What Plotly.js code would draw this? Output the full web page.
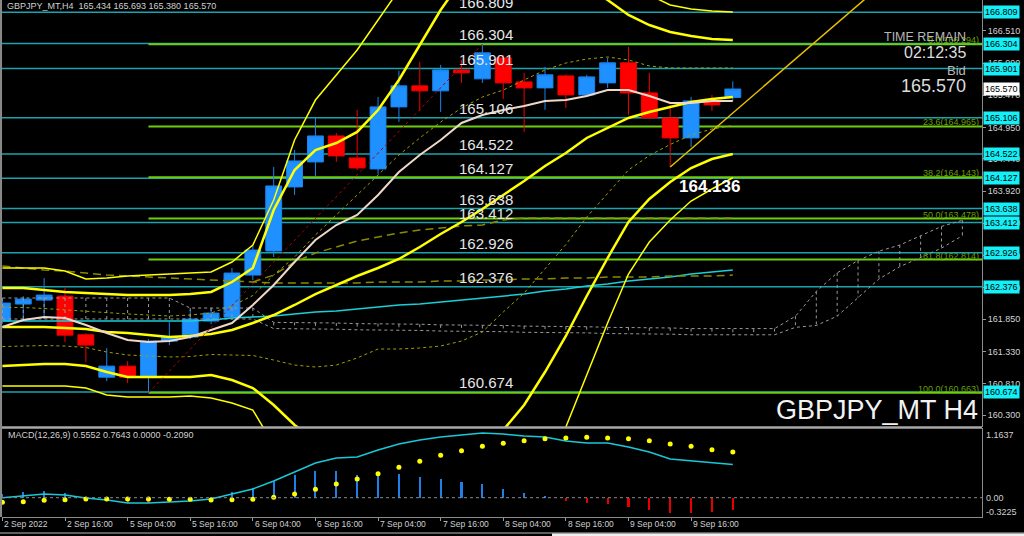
<!DOCTYPE html>
<html><head><meta charset="utf-8">
<script src="https://cdn.plot.ly/plotly-3.0.1.min.js"></script>
<style>html,body{margin:0;padding:0;background:#000;}#chart{width:1024px;height:536px;}</style>
</head><body><div id="chart"></div>
<script>
// ---------- DATA ----------
const tickBars   = [0,3,6,9,12,15,18,21,24,27,30,33];
const tickLabels = ["2 Sep 2022","2 Sep 16:00","5 Sep 04:00","5 Sep 16:00","6 Sep 04:00","6 Sep 16:00",
                    "7 Sep 04:00","7 Sep 16:00","8 Sep 04:00","8 Sep 16:00","9 Sep 04:00","9 Sep 16:00"];

const opens  = [161.821,162.096,162.160,162.225,161.600,160.915,161.093,160.915,161.497,161.562,161.821,161.885,
                162.564,162.953,163.988,164.392,164.812,164.456,164.279,165.281,165.621,165.540,165.879,165.734,
                166.073,165.685,165.588,165.782,165.475,165.669,165.993,165.507,165.103,164.780,165.378,165.434];
const highs  = [162.150,162.225,162.516,162.370,161.627,161.384,161.174,161.530,161.805,161.999,162.031,162.678,
                163.050,164.311,164.586,165.103,164.860,165.233,165.443,165.863,166.009,165.960,166.041,166.294,
                166.120,165.831,165.928,165.800,165.800,166.073,166.251,165.831,165.313,165.443,165.475,165.693];
const lows   = [161.780,161.837,161.902,161.481,161.158,160.850,160.818,160.663,161.433,161.530,161.770,161.837,
                162.480,162.856,163.858,164.165,164.392,164.262,164.198,165.039,165.216,165.200,165.669,165.669,
                165.410,164.877,165.233,165.265,165.440,165.588,165.152,165.087,164.311,164.634,165.216,165.380];
const closes = [162.112,162.176,162.241,161.594,161.433,161.093,160.915,161.497,161.562,161.853,161.950,162.597,
                162.969,164.004,164.408,164.812,164.489,164.295,165.281,165.621,165.540,165.879,165.831,166.154,
                165.669,165.588,165.799,165.475,165.766,165.993,165.507,165.103,164.780,165.378,165.313,165.570];

// Bollinger set (middle, +-1 dotted, +-2 thick, +-3 thin)
const bbMid = [161.725,161.725,161.725,161.709,161.693,161.645,161.628,161.596,161.564,161.580,161.612,161.677,
               161.790,161.919,162.081,162.258,162.404,162.549,162.679,162.824,163.018,163.228,163.422,163.632,
               163.858,164.084,164.326,164.536,164.779,164.940,165.102,165.199,165.279,165.360,165.409,165.441];
const bbUp2 = [162.355,162.355,162.323,162.291,162.275,162.258,162.242,162.242,162.242,162.258,162.291,162.452,
               162.678,163.615,164.262,164.585,164.698,164.876,165.231,165.716,166.281,166.846,167.331,167.573,
               167.735,167.735,167.654,167.493,167.250,167.008,166.766,166.604,166.491,166.426,166.378,166.362];
const bbLo2 = [161.095,161.111,161.127,161.127,161.095,160.998,160.918,160.918,160.918,160.918,160.950,160.869,
               160.740,160.465,160.142,159.900,159.819,159.900,160.061,159.900,159.738,159.609,159.577,159.658,
               160.061,160.465,160.998,161.580,162.226,162.840,163.422,163.793,164.068,164.294,164.439,164.520];
const bbUp3 = [162.678,162.678,162.678,162.630,162.501,162.517,162.549,162.565,162.582,162.598,162.614,162.775,
               163.050,163.777,164.746,165.392,165.796,166.200,166.685,167.170,167.654,168.139,168.462,168.704,
               168.866,168.866,168.785,168.543,168.220,167.816,167.412,167.089,166.927,166.863,166.830,166.814];
const bbLo3 = [160.772,160.772,160.772,160.772,160.740,160.627,160.595,160.595,160.595,160.611,160.578,160.498,
               160.384,159.819,159.092,158.607,158.446,158.527,158.607,158.446,158.284,158.123,158.042,158.042,
               158.171,158.656,159.334,160.110,160.950,161.790,162.582,163.099,163.454,163.761,163.955,164.136];
const bbUp1 = [162.041,162.041,162.024,162.000,161.984,161.952,161.936,161.919,161.903,161.919,161.952,162.065,
               162.234,162.566,162.856,163.212,163.535,163.858,164.181,164.504,164.779,165.037,165.263,165.441,
               165.554,165.716,165.877,165.990,166.055,166.087,166.039,165.942,165.910,165.910,165.910,165.910];
const bbLo1 = [161.410,161.418,161.426,161.418,161.394,161.321,161.273,161.257,161.241,161.249,161.281,161.273,
               161.265,161.192,161.111,161.079,161.111,161.225,161.370,161.370,161.386,161.418,161.499,161.645,
               161.968,162.274,162.662,163.058,163.502,163.890,164.262,164.496,164.674,164.827,164.924,164.981];
// short moving average (beige), long moving average (cyan), long average (olive dashed), base line (olive dashed)
const maShort = [161.725,161.838,161.887,161.871,161.758,161.628,161.515,161.483,161.499,161.564,161.677,161.790,
                 162.081,162.404,162.775,163.131,163.373,163.535,163.858,164.229,164.504,164.746,165.021,165.150,
                 165.231,165.296,165.376,165.392,165.457,165.554,165.554,165.457,165.344,165.344,165.376,165.376];
const maLong  = [161.822,161.822,161.822,161.822,161.822,161.822,161.822,161.822,161.822,161.822,161.838,161.871,
                 161.887,161.903,161.935,161.968,161.984,162.016,162.049,162.081,162.097,162.129,162.161,162.194,
                 162.226,162.258,162.307,162.339,162.387,162.420,162.468,162.501,162.533,162.581,162.614,162.646];
const maSlow  = [162.711,162.678,162.646,162.630,162.598,162.565,162.549,162.533,162.517,162.501,162.485,162.469,
                 162.452,162.436,162.436,162.436,162.436,162.436,162.452,162.452,162.452,162.469,162.469,162.485,
                 162.485,162.501,162.501,162.517,162.517,162.533,162.533,162.533,162.549,162.549,162.549,162.565];
const baseX   = [12,13,14,15,16,17,18,19,20,21,22,23,24,25,26,27,28,29,30,31,32,33,34,35];
const baseLine= [162.452,162.565,162.775,162.921,163.018,163.115,163.179,163.244,163.293,163.325,163.357,163.373,
                 163.454,163.486,163.486,163.486,163.486,163.486,163.486,163.486,163.486,163.486,163.486,163.486];
// cloud spans (grey dotted, extend beyond last bar)
const spanA = [162.194,162.194,162.194,162.194,162.194,162.194,162.194,162.194,162.194,162.032,162.032,162.032,
               162.032,161.80,161.80,161.79,161.79,161.78,161.78,161.77,161.77,161.76,161.76,161.75,161.75,161.74,
               161.74,161.73,161.73,161.72,161.72,161.71,161.71,161.70,161.70,161.69,161.69,161.70,161.90,162.30,
               162.60,162.80,162.95,163.05,163.20,163.35,163.45];
const spanB = [161.855,161.855,161.855,161.855,161.855,161.855,161.855,161.855,161.855,161.855,161.855,161.855,
               161.855,161.70,161.70,161.69,161.69,161.68,161.68,161.67,161.67,161.66,161.66,161.65,161.65,161.64,
               161.64,161.63,161.63,161.62,161.62,161.61,161.61,161.60,161.60,161.59,161.59,161.60,161.72,161.75,
               161.90,162.20,162.50,162.70,162.85,163.00,163.20];

// Horizontal levels, Fibonacci, trend lines
const levels   = [166.809,166.304,165.901,165.106,164.522,164.127,163.638,163.412,162.926,162.376,160.674];
const fibPct   = [0,23.6,38.2,50,61.8,100];
const fibVals  = [166.294,164.965,164.143,163.478,162.814,160.663];
const fibStartBar = 7;
const fibDiagX = [7,23], fibDiagY = [160.663,166.294];
const trendX = [32,41.6], trendY = [164.311,167.10];
const axisTicks = [166.510,165.990,165.470,164.950,164.440,163.920,163.400,162.880,162.360,161.850,161.330,160.810,160.300];
const bidPrice = 165.570;

// MACD panel
const macd   = [0.000,0.028,0.062,0.045,-0.005,-0.038,-0.088,-0.088,-0.072,-0.055,-0.022,0.062,0.145,0.279,0.429,0.579,
                0.663,0.680,0.796,0.897,0.963,1.013,1.047,1.080,1.063,1.030,1.013,0.947,0.913,0.913,0.846,0.763,0.646,
                0.613,0.579,0.555];
const signal = [-0.077,-0.067,-0.043,-0.033,-0.022,-0.022,-0.022,-0.022,-0.027,-0.027,-0.038,-0.033,-0.027,0.007,0.062,
                0.140,0.229,0.312,0.401,0.508,0.608,0.708,0.785,0.858,0.908,0.952,0.985,0.997,1.008,0.997,0.985,0.952,
                0.896,0.858,0.801,0.764];
const hist   = [0.070,0.100,0.117,0.072,0.015,-0.039,-0.095,-0.083,-0.050,-0.045,0.010,0.100,0.167,0.278,0.378,0.445,
                0.445,0.378,0.406,0.389,0.339,0.312,0.267,0.228,0.145,0.083,0.028,-0.056,-0.095,-0.106,-0.150,-0.206,
                -0.250,-0.250,-0.239,-0.209];

// ---------- CHART ----------
const xs  = opens.map((_, i) => i);
const xsC = spanA.map((_, i) => i);
const X_MIN = -0.019, X_MAX = 46.94;
const PH = 517;                       // plot height in px
const py = p => (PH - p) / PH;        // pixel row -> paper y
const px = p => (p - 2) / 980;        // pixel column -> paper x

const FONT = 'Liberation Sans, Arial, sans-serif';
const traces = [];

// cloud hatch (vertical dotted segments) + its two edges
const hx = [], hy = [];
xsC.forEach(i => { hx.push(i, i, null); hy.push(spanA[i], spanB[i], null); });
traces.push({type:'scatter', mode:'lines', x:hx, y:hy, line:{color:'#9a9a9a', width:1, dash:'dot'}, hoverinfo:'skip'});
traces.push({type:'scatter', mode:'lines', x:xsC, y:spanA, line:{color:'#9a9a9a', width:1, dash:'dot'}, hoverinfo:'skip'});
traces.push({type:'scatter', mode:'lines', x:xsC, y:spanB, line:{color:'#9a9a9a', width:1, dash:'dot'}, hoverinfo:'skip'});

// candles
traces.push({type:'candlestick', x:xs, open:opens, high:highs, low:lows, close:closes, whiskerwidth:0,
  increasing:{line:{color:'#1a84ee', width:1}, fillcolor:'#1e90ff'},
  decreasing:{line:{color:'#ee0000', width:1}, fillcolor:'#ff0000'}, hoverinfo:'skip'});

// indicators
const line = (y, color, width, dash, x) => ({type:'scatter', mode:'lines', x:x || xs, y:y,
  line:{color:color, width:width, dash:dash || 'solid'}, hoverinfo:'skip'});
traces.push(line(maLong, '#19d0d8', 1.5));
traces.push(line(maSlow, '#8a8a00', 1.5, '8px,5px'));
traces.push(line(baseLine, '#8a8a00', 1.5, '8px,5px', baseX));
traces.push(line(bbUp1, '#a0a000', 1, 'dot'));
traces.push(line(bbLo1, '#a0a000', 1, 'dot'));
traces.push(line(bbUp3, '#ffff00', 1.5));
traces.push(line(bbLo3, '#ffff00', 1.5));
traces.push(line(bbUp2, '#ffff00', 2.5));
traces.push(line(bbLo2, '#ffff00', 2.5));
traces.push(line(bbMid, '#ffff00', 2.5));
traces.push(line(maShort, '#efd8c8', 2));
traces.push({type:'scatter', mode:'lines', x:fibDiagX, y:fibDiagY, line:{color:'#b00000', width:1, dash:'dot'}, hoverinfo:'skip'});
traces.push({type:'scatter', mode:'lines', x:trendX, y:trendY, line:{color:'#e8c000', width:1.5}, hoverinfo:'skip'});

// MACD
traces.push({type:'bar', x:xs, y:hist, xaxis:'x', yaxis:'y2', width:0.1,
  marker:{color:hist.map(v => v >= 0 ? '#1e7fe8' : '#e80000'), line:{width:0}}, hoverinfo:'skip'});
traces.push({type:'scatter', mode:'lines', x:xs, y:macd, xaxis:'x', yaxis:'y2', line:{color:'#19c8d8', width:1.5}, hoverinfo:'skip'});
traces.push({type:'scatter', mode:'markers', x:xs, y:signal, xaxis:'x', yaxis:'y2',
  marker:{color:'#ffff00', size:5}, hoverinfo:'skip'});

// shapes
const shapes = [];
levels.forEach(v => shapes.push({type:'line', xref:'paper', yref:'y', x0:0, x1:1, y0:v, y1:v,
  line:{color:'#1aa3ad', width:1.5}, layer:'below'}));
fibVals.forEach(v => shapes.push({type:'line', xref:'x', yref:'y', x0:fibStartBar, x1:X_MAX, y0:v, y1:v,
  line:{color:'#6ccc10', width:2}, layer:'below'}));
shapes.push({type:'line', xref:'paper', yref:'y2', x0:0, x1:1, y0:0, y1:0, line:{color:'#8a8a8a', width:1, dash:'dot'}});
shapes.push({type:'line', xref:'paper', yref:'paper', x0:0, x1:1, y0:py(427.5), y1:py(427.5), line:{color:'#a8a8a8', width:2.5}});
shapes.push({type:'line', xref:'paper', yref:'paper', x0:-0.001, x1:-0.001, y0:0, y1:1, line:{color:'#8a8a8a', width:2}});
// window frame strip at the very bottom
shapes.push({type:'line', xref:'paper', yref:'paper', x0:px(0), x1:px(1024), y0:py(533), y1:py(533), line:{color:'#bdbdbd', width:1}});
shapes.push({type:'rect', xref:'paper', yref:'paper', x0:px(552), x1:px(1024), y0:py(533.5), y1:py(537),
  line:{width:0}, fillcolor:'#f0f0f0'});

// annotations
const ann = [];
tickBars.forEach((b, k) => ann.push({xref:'x', yref:'paper', x:b, y:py(524), xanchor:'left', yanchor:'middle',
  text:tickLabels[k], showarrow:false, font:{family:FONT, size:8.5, color:'#cfcfcf'}}));
levels.forEach(v => ann.push({xref:'paper', yref:'y', x:px(457), y:v, xanchor:'left', yanchor:'bottom', yshift:-1,
  text:v.toFixed(3), showarrow:false, font:{family:FONT, size:15, color:'#e6e6e6'}}));
levels.forEach(v => ann.push({xref:'paper', yref:'y', x:1, y:v, xanchor:'left', yanchor:'middle', xshift:1,
  text:v.toFixed(3), showarrow:false, bgcolor:'#14f0f8', borderpad:1, font:{family:FONT, size:9, color:'#000'}}));
ann.push({xref:'paper', yref:'y', x:1, y:bidPrice, xanchor:'left', yanchor:'middle', xshift:1,
  text:bidPrice.toFixed(3), showarrow:false, bgcolor:'#ffffff', borderpad:1, font:{family:FONT, size:9, color:'#000'}});
fibPct.forEach((p, k) => ann.push({xref:'paper', yref:'y', x:1, y:fibVals[k], xanchor:'right', yanchor:'bottom',
  xshift:-1, yshift:-3, text:p.toFixed(1) + '(' + fibVals[k].toFixed(3) + ')', showarrow:false,
  font:{family:FONT, size:9, color:'#6e9e00'}}));
ann.push({xref:'paper', yref:'paper', x:0, y:1, xanchor:'left', yanchor:'top', xshift:3, yshift:1,
  text:'GBPJPY_MT,H4  165.434 165.693 165.380 165.570', showarrow:false, font:{family:FONT, size:9, color:'#d0d0d0'}});
ann.push({xref:'paper', yref:'paper', x:px(968), y:py(37), xanchor:'right', yanchor:'middle',
  text:'TIME REMAIN', showarrow:false, font:{family:FONT, size:12.5, color:'#b8b8b8'}});
ann.push({xref:'paper', yref:'paper', x:px(968), y:py(52), xanchor:'right', yanchor:'middle',
  text:'02:12:35', showarrow:false, font:{family:FONT, size:16, color:'#dcdcdc'}});
ann.push({xref:'paper', yref:'paper', x:px(968), y:py(70), xanchor:'right', yanchor:'middle',
  text:'Bid', showarrow:false, font:{family:FONT, size:13, color:'#b8b8b8'}});
ann.push({xref:'paper', yref:'paper', x:px(968), y:py(86), xanchor:'right', yanchor:'middle',
  text:'165.570', showarrow:false, font:{family:FONT, size:18, color:'#dcdcdc'}});
ann.push({xref:'paper', yref:'paper', x:px(980), y:py(410), xanchor:'right', yanchor:'middle',
  text:'GBPJPY_MT H4', showarrow:false, font:{family:FONT, size:27, color:'#f2f2f2'}});
ann.push({xref:'paper', yref:'paper', x:px(677), y:py(187), xanchor:'left', yanchor:'middle',
  text:'<b>164.136</b>', showarrow:false, font:{family:FONT, size:17, color:'#ffffff'}});
ann.push({xref:'paper', yref:'paper', x:0, y:py(435), xanchor:'left', yanchor:'middle', xshift:4,
  text:'MACD(12,26,9) 0.5552 0.7643 0.0000 -0.2090', showarrow:false, font:{family:FONT, size:9, color:'#d0d0d0'}});
[['1.1637',435],['0.00',497.7],['-0.3225',512]].forEach(([t, r]) => ann.push({xref:'paper', yref:'paper', x:1, y:py(r),
  xanchor:'left', yanchor:'middle', xshift:2, text:t, showarrow:false, font:{family:FONT, size:9, color:'#d0d0d0'}}));

const layout = {
  width:1024, height:536, margin:{l:2, r:42, t:0, b:19},
  paper_bgcolor:'#000', plot_bgcolor:'#000', showlegend:false, boxgap:0.24, boxgroupgap:0, bargap:0,
  xaxis:{range:[X_MIN, X_MAX], anchor:'y2', showgrid:false, zeroline:false, tickmode:'array', tickvals:tickBars,
         ticks:'outside', ticklen:3, tickcolor:'#9a9a9a', showticklabels:false, showline:true, linecolor:'#8a8a8a',
         linewidth:1, rangeslider:{visible:false}, fixedrange:true},
  yaxis:{domain:[90/PH, 1], range:[160.110, 167.008], side:'right', showgrid:false, zeroline:false,
         tickmode:'array', tickvals:axisTicks, ticktext:axisTicks.map(v => v.toFixed(3)), ticks:'outside', ticklen:3,
         tickcolor:'#9a9a9a', tickfont:{family:FONT, size:9, color:'#d4d4d4'}, showline:true, linecolor:'#8a8a8a',
         fixedrange:true},
  yaxis2:{domain:[0, 89/PH], range:[-0.3225, 1.1637], side:'right', showgrid:false, zeroline:false,
          showticklabels:false, showline:true, linecolor:'#8a8a8a', fixedrange:true},
  shapes:shapes, annotations:ann
};
Plotly.newPlot('chart', traces, layout, {staticPlot:true, displayModeBar:false});
</script></body></html>
